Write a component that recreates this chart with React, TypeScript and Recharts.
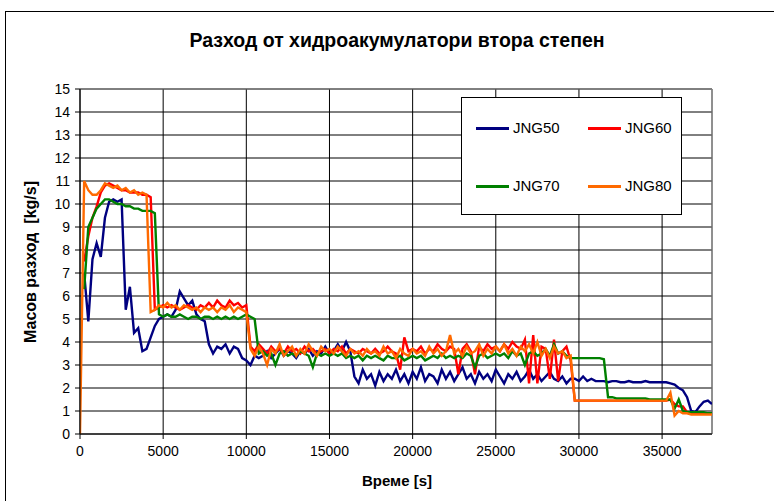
import React from "react";
import { LineChart, Line, XAxis, YAxis, CartesianGrid, ReferenceLine } from "recharts";

// samples every 250 s, 0 .. 38000 s
const STEP = 250;

const jng50 = [
  null, 7.0, 4.9, 7.6, 8.3, 7.7, 9.4, 10.1, 10.2, 10.1, 10.2, 5.4, 6.4, 4.4, 4.6, 3.6, 3.7, 4.2, 4.7, 5.0,
  5.1, 5.2, 5.1, 5.4, 6.2, 5.9, 5.6, 5.8, 5.2, 5.0, 4.9, 3.9, 3.5, 3.8, 3.7, 3.9, 3.5, 3.8, 3.7, 3.3,
  3.2, 3.0, 3.4, 3.3,
  3.4, 3.6, 3.3, 3.5, 3.7, 3.4, 3.6, 3.5, 3.3, 3.6, 3.5, 3.7, 3.4, 3.6, 3.5, 3.8, 3.5, 3.6, 3.9, 3.6, 4.0, 3.6,
  2.5, 2.2, 2.8, 2.4, 2.6, 2.1, 2.7, 2.3, 2.6, 2.4,
  2.8, 2.3, 2.6, 2.2, 2.7, 2.4, 2.9, 2.3, 2.6, 2.5,
  2.2, 2.8, 2.4, 2.7, 2.3, 2.6, 2.9, 2.4, 2.6, 2.2,
  2.7, 2.4, 2.6, 2.3, 2.8, 2.5, 2.2, 2.6, 2.4, 2.7,
  2.3, 2.5, 2.8, 2.4, 2.6, 2.3, 2.5, 2.7, 2.4, 2.3,
  2.5, 2.2, 2.4,
  2.4, 2.3, 2.5, 2.3, 2.4, 2.3, 2.3, 2.3, 2.25, 2.3, 2.3, 2.25, 2.25, 2.3, 2.25, 2.25, 2.25, 2.3, 2.25, 2.25, 2.25, 2.25,
  2.25, 2.2, 2.15, 2.0, 1.9, 1.6, 1.0, 0.95, 1.2, 1.4, 1.45, 1.3,
];

const jng60 = [
  null, 7.5, 8.6, 9.4, 9.9, 10.5, 10.8, 10.9, 10.8, 10.7, 10.6, 10.6, 10.5, 10.5, 10.5, 10.4, 10.4, 10.3,
  5.4, 5.5, 5.6, 5.5, 5.6, 5.5, 5.4, 5.5, 5.6, 5.5, 5.4, 5.6, 5.5, 5.7, 5.5, 5.8, 5.6, 5.5, 5.8, 5.6, 5.7, 5.5, 5.6,
  3.8, 3.6, 3.9, 3.7, 3.5, 3.8, 3.6, 3.7, 3.5, 3.8,
  3.6, 3.7, 3.5, 3.8, 3.6, 3.7, 3.5, 3.6, 3.7, 3.5,
  3.7, 3.6, 3.8, 3.5, 3.7, 3.6, 3.5, 3.7, 3.6, 3.5,
  3.7, 3.5, 3.6, 3.8, 3.6, 3.5, 2.8, 4.2, 3.6, 3.7,
  3.6, 3.8, 3.5, 3.7, 3.6, 3.9, 3.7, 3.6, 3.8, 3.7,
  2.6, 3.7, 3.9, 3.6, 2.6, 3.8, 3.6, 3.9, 3.7, 3.8,
  3.6, 3.9, 3.7, 4.0, 3.8, 3.7, 4.1, 2.2, 4.3, 2.2,
  3.8, 3.7, 2.4, 4.1, 2.3, 3.6, 3.8, 3.2,
  1.45, 1.45, 1.45, 1.45, 1.45, 1.45, 1.45, 1.45, 1.45, 1.45, 1.45, 1.45, 1.45, 1.45, 1.45, 1.45, 1.45, 1.45,
  1.45, 1.45, 1.45, 1.45, 1.45,
  1.5, 1.3, 1.2, 1.2, 0.95, 0.9, 0.9, 0.9, 0.9, 0.9, 0.9,
];

const jng70 = [
  null, 6.3, 9.0, 9.4, 9.8, 10.0, 10.2, 10.2, 10.1, 10.0, 10.0, 9.9, 9.9, 9.8, 9.8, 9.7, 9.7, 9.7, 9.6,
  5.2, 5.1, 5.2, 5.1, 5.1, 5.2, 5.1, 5.0, 5.1, 5.1, 5.0, 5.1, 5.1, 5.0, 5.1, 5.0, 5.1, 5.0, 5.1, 5.0,
  5.1, 5.2, 5.1, 5.0,
  3.5, 3.6, 3.4, 3.5, 3.0, 3.5, 3.6, 3.4,
  3.5, 3.4, 3.6, 3.5, 3.4, 2.9, 3.5, 3.4, 3.5, 3.4,
  3.5, 3.4, 3.5, 3.3, 3.4, 3.3, 3.4, 3.2, 3.4, 3.3,
  3.4, 3.3, 3.2, 3.4, 3.3, 3.3, 3.4, 3.2, 3.3, 3.4,
  3.3, 3.4, 3.2, 3.3, 3.4, 3.3, 3.5, 3.3, 3.4, 3.3,
  3.4, 3.3, 3.5, 3.4, 2.9, 3.4, 3.5, 3.3, 3.4, 3.5,
  3.4, 3.5, 3.3, 3.6, 3.4, 3.5, 3.0, 3.5, 3.6, 3.4,
  3.5, 3.7, 3.4, 3.9, 3.5, 3.6, 3.4, 3.3,
  3.3, 3.3, 3.3, 3.3, 3.3, 3.3, 3.3, 3.25,
  1.6, 1.6, 1.55, 1.55, 1.55, 1.55, 1.55, 1.55, 1.55, 1.55, 1.5, 1.5, 1.5, 1.5, 1.5,
  1.5, 1.1, 1.5, 1.0, 0.95, 0.95, 0.95, 0.95, 0.95, 0.9, 0.9,
];

const jng80 = [
  0, 11.0, 10.6, 10.4, 10.4, 10.6, 10.9, 10.8, 10.7, 10.8, 10.6, 10.7, 10.5, 10.6, 10.4, 10.5, 10.4, 5.3, 5.4,
  5.6, 5.5, 5.7, 5.5, 5.6, 5.4, 5.6, 5.5, 5.4, 5.5, 5.3, 5.5, 5.4, 5.5, 5.3, 5.5, 5.4, 5.6, 5.3, 5.5, 5.4, 5.3,
  3.7, 3.4, 3.8, 3.5, 3.0, 3.7, 3.5, 3.9, 3.4, 3.6,
  3.8, 3.4, 3.7, 3.5, 3.9, 3.6, 3.4, 3.8, 3.6, 3.7,
  3.5, 3.8, 3.6, 3.4, 3.7, 3.5, 3.6, 3.4, 3.7, 3.5,
  3.6, 3.4, 3.8, 3.5, 3.6, 3.3, 3.7, 3.5, 3.4, 3.7,
  3.5, 3.6, 3.4, 3.8, 3.5, 3.7, 3.4, 3.6, 4.3, 3.5,
  3.7, 3.4, 3.8, 3.5, 3.6, 3.9, 3.4, 3.7, 3.5, 3.8,
  3.6, 3.9, 3.5, 3.7, 3.4, 3.8, 3.6, 3.9, 3.5, 4.0,
  3.4, 3.7, 3.3, 3.8, 3.5, 3.6, 3.3, 3.4,
  1.45, 1.45, 1.45, 1.45, 1.45, 1.45, 1.45, 1.45, 1.45, 1.45, 1.45, 1.45, 1.45, 1.45, 1.45, 1.45, 1.45, 1.45,
  1.45, 1.45, 1.45, 1.45, 1.45,
  1.8, 0.8, 1.0, 0.9, 0.9, 0.85, 0.85, 0.85, 0.85, 0.85, 0.85,
];

const xTicks = [0, 5000, 10000, 15000, 20000, 25000, 30000, 35000];
const yTicks = [0, 1, 2, 3, 4, 5, 6, 7, 8, 9, 10, 11, 12, 13, 14, 15];

const series = [
  { key: "jng50", name: "JNG50", color: "#000080" },
  { key: "jng60", name: "JNG60", color: "#FF0000" },
  { key: "jng70", name: "JNG70", color: "#008000" },
  { key: "jng80", name: "JNG80", color: "#FF6A00" },
];

const data = jng80.map((_, i) => ({
  t: i * STEP,
  jng50: jng50[i],
  jng60: jng60[i],
  jng70: jng70[i],
  jng80: jng80[i],
}));

const FONT = "'Liberation Sans', Arial, sans-serif";
const tick = { fill: "#000", fontSize: 14, fontFamily: FONT };

function LegendBox() {
  const item = (s: typeof series[0], left: number, top: number) => (
    <div key={s.key} style={{ position: "absolute", left, top, display: "flex", alignItems: "center" }}>
      <div style={{ width: 33, height: 3, background: s.color, marginRight: 4 }} />
      <span style={{ fontSize: 15, fontFamily: FONT, lineHeight: "18px" }}>{s.name}</span>
    </div>
  );
  return (
    <div style={{ position: "absolute", left: 461, top: 97, width: 219, height: 116, border: "1px solid #000", background: "#fff" }}>
      {item(series[0], 14, 21)}
      {item(series[1], 126, 21)}
      {item(series[2], 14, 79)}
      {item(series[3], 126, 79)}
    </div>
  );
}

export default function App() {
  return (
    <div style={{ position: "absolute", left: 0, top: 0, width: 774, height: 501, overflow: "hidden", background: "#fff", fontFamily: FONT }}>
      <div style={{ position: "absolute", left: 5, top: 11, width: 800, height: 520, border: "1px solid #000" }} />
      <div style={{ position: "absolute", left: 10, top: 28, width: 774, textAlign: "center", fontSize: 19.5, fontWeight: "bold", lineHeight: "24px" }}>
        Разход от хидроакумулатори втора степен
      </div>
      <div style={{ position: "absolute", left: 0, top: 0 }}>
        <LineChart width={774} height={501} data={data} margin={{ top: 89, right: 62, bottom: 37, left: 40 }}>
          <CartesianGrid stroke="#000" strokeWidth={1} />
          <XAxis
            dataKey="t"
            type="number"
            domain={[0, 38000]}
            ticks={xTicks}
            interval={0}
            height={30}
            tick={tick}
            tickSize={5}
            tickMargin={7}
            axisLine={{ stroke: "#000" }}
            tickLine={{ stroke: "#000" }}
            allowDataOverflow
          />
          <YAxis
            type="number"
            domain={[0, 15]}
            ticks={yTicks}
            interval={0}
            width={40}
            tick={tick}
            tickSize={5}
            tickMargin={5}
            axisLine={{ stroke: "#000" }}
            tickLine={{ stroke: "#000" }}
          />
          <ReferenceLine y={15} stroke="#808080" />
          <ReferenceLine x={38000} stroke="#a0a0a0" />
          {series.map((s) => (
            <Line
              key={s.key}
              dataKey={s.key}
              name={s.name}
              type="linear"
              stroke={s.color}
              strokeWidth={2.4}
              dot={false}
              isAnimationActive={false}
            />
          ))}
        </LineChart>
      </div>
      <div style={{ position: "absolute", left: 31 - 110, top: 262 - 9, width: 220, height: 18, lineHeight: "18px", textAlign: "center", fontSize: 16, fontWeight: "bold", transform: "rotate(-90deg)" }}>
        Масов разход&nbsp;&nbsp;[kg/s]
      </div>
      <div style={{ position: "absolute", left: 287, top: 472, width: 220, textAlign: "center", fontSize: 15, fontWeight: "bold", lineHeight: "18px" }}>
        Време [s]
      </div>
      <LegendBox />
    </div>
  );
}
